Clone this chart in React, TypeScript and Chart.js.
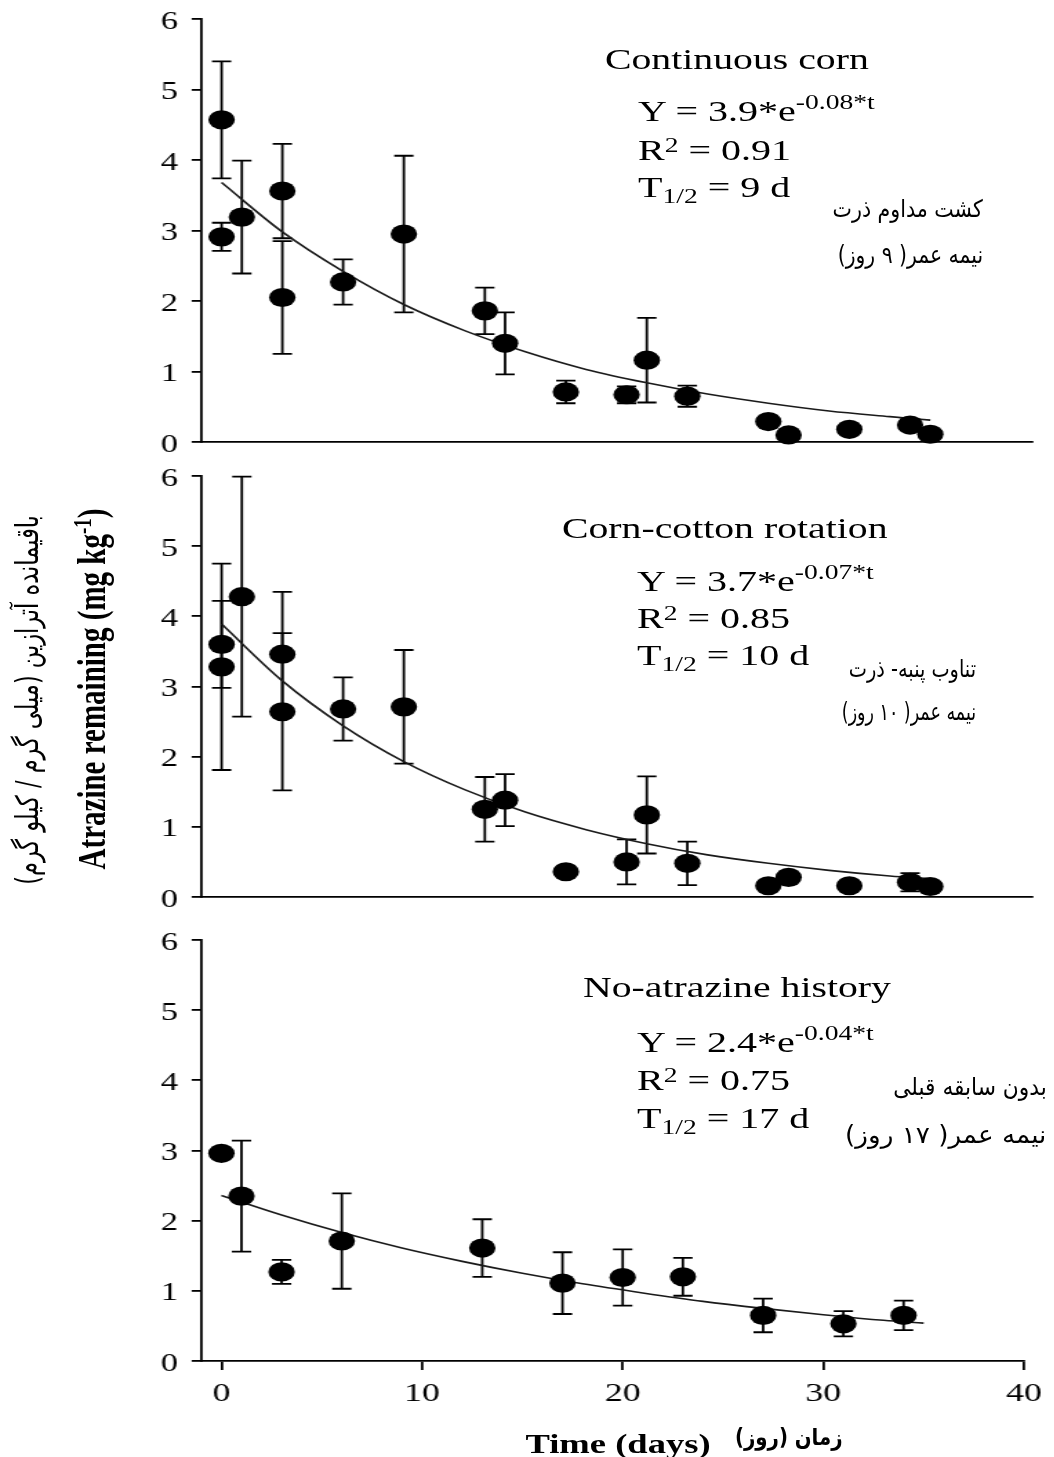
import React, { useEffect, useLayoutEffect, useRef } from "react";
import { Chart, registerables } from "chart.js";

Chart.register(...registerables);

// ---------------- data ----------------
const xTicks = [0, 10, 20, 30, 40];
const yTicks = [0, 1, 2, 3, 4, 5, 6];

// Continuous corn
const days1 = [0, 0, 1, 3, 3, 6, 9, 13, 14, 17, 20, 21, 23, 27, 28, 31, 34, 35];
const vals1 = [4.57, 2.91, 3.19, 3.56, 2.05, 2.27, 2.95, 1.86, 1.4, 0.71, 0.67, 1.16, 0.65, 0.29, 0.1, 0.18, 0.24, 0.11];
const errs1 = [0.83, 0.2, 0.8, 0.67, 0.8, 0.32, 1.11, 0.33, 0.44, 0.16, 0.12, 0.6, 0.15, 0, 0, 0, 0.07, 0];

// Corn-cotton rotation
const days2 = [0, 0, 1, 3, 3, 6, 9, 13, 14, 17, 20, 21, 23, 27, 28, 31, 34, 35];
const vals2 = [3.6, 3.28, 4.28, 3.46, 2.64, 2.68, 2.71, 1.25, 1.38, 0.36, 0.5, 1.17, 0.48, 0.16, 0.28, 0.16, 0.21, 0.15];
const errs2 = [0.62, 1.47, 1.71, 0.89, 1.12, 0.45, 0.81, 0.46, 0.37, 0, 0.32, 0.55, 0.31, 0, 0, 0, 0.13, 0];

// No-atrazine history
const days3 = [0, 1, 3, 6, 13, 17, 20, 23, 27, 31, 34];
const vals3 = [2.96, 2.35, 1.27, 1.71, 1.61, 1.11, 1.19, 1.2, 0.65, 0.53, 0.65];
const errs3 = [0, 0.79, 0.17, 0.68, 0.41, 0.44, 0.4, 0.27, 0.24, 0.18, 0.21];

// fitted curves
const curveDays = [0, 3, 6, 9, 12, 15, 18, 21, 24, 27, 30, 33, 35];
const fit1 = [3.68, 2.98, 2.42, 1.95, 1.58, 1.28, 1.03, 0.84, 0.68, 0.55, 0.44, 0.36, 0.31];
const fit2 = [3.89, 3.08, 2.44, 1.93, 1.53, 1.21, 0.96, 0.76, 0.6, 0.48, 0.38, 0.3, 0.26];
const fit3 = [2.36, 2.08, 1.83, 1.61, 1.42, 1.25, 1.1, 0.97, 0.85, 0.75, 0.66, 0.58, 0.54];

const panelTitles = ["Continuous corn", "Corn-cotton rotation", "No-atrazine history"];
const fitA = ["3.9", "3.7", "2.4"];
const fitK = ["-0.08*t", "-0.07*t", "-0.04*t"];
const fitR2 = ["0.91", "0.85", "0.75"];
const halfLife = ["9 d", "10 d", "17 d"];
const faLine1 = ["کشت مداوم ذرت", "تناوب پنبه- ذرت", "بدون سابقه  قبلی"];
const faLine2 = ["نیمه عمر( ۹ روز)", "نیمه عمر( ۱۰ روز)", "نیمه عمر( ۱۷ روز)"];

// ---------------- layout (local, unstretched coords) ----------------
const S = 1.38; // the original figure is stretched horizontally
const W = 764;
const H = 1457;
const AREA_L = 145.9;
const AREA_R = 747.5;
const Y_AXIS_W = 70;
const X_AXIS_H = 60;
const PAD = 32;
const serif = "'Liberation Serif', 'Times New Roman', serif";
const persian = "'DejaVu Sans', sans-serif";

type PanelCfg = {
  days: number[];
  vals: number[];
  errs: number[];
  fit: number[];
  y6: number;
  y0: number;
  showX: boolean;
};

const panels: PanelCfg[] = [
  { days: days1, vals: vals1, errs: errs1, fit: fit1, y6: 19, y0: 442, showX: false },
  { days: days2, vals: vals2, errs: errs2, fit: fit2, y6: 476, y0: 897, showX: false },
  { days: days3, vals: vals3, errs: errs3, fit: fit3, y6: 940, y0: 1361, showX: true },
];

const CAP = 7;

const errorBarPlugin = {
  id: "errorBars",
  beforeDatasetsDraw(chart: any) {
    const { ctx } = chart;
    const xs = chart.scales.x;
    const ys = chart.scales.y;
    const ds = chart.data.datasets[0];
    const errs: number[] = ds.errors || [];
    ctx.save();
    ctx.strokeStyle = "#000";
    ctx.lineWidth = 1.8;
    ds.data.forEach((p: any, i: number) => {
      const e = errs[i];
      if (!e) return;
      const px = xs.getPixelForValue(p.x);
      const yt = ys.getPixelForValue(p.y + e);
      const yb = ys.getPixelForValue(p.y - e);
      ctx.beginPath();
      ctx.moveTo(px, yt);
      ctx.lineTo(px, yb);
      ctx.moveTo(px - CAP, yt);
      ctx.lineTo(px + CAP, yt);
      ctx.moveTo(px - CAP, yb);
      ctx.lineTo(px + CAP, yb);
      ctx.stroke();
    });
    ctx.restore();
  },
};

function Panel({ cfg }: { cfg: PanelCfg }) {
  const ref = useRef<HTMLCanvasElement>(null);
  const padTop = PAD;
  const padBottom = cfg.showX ? 0 : PAD;
  const xH = cfg.showX ? X_AXIS_H : 0;
  const top = cfg.y6 - padTop;
  const height = cfg.y0 - cfg.y6 + padTop + padBottom + xH;

  useEffect(() => {
    const chart = new Chart(ref.current as HTMLCanvasElement, {
      type: "scatter",
      data: {
        datasets: [
          {
            type: "scatter",
            data: cfg.days.map((d, i) => ({ x: d, y: cfg.vals[i] })),
            errors: cfg.errs,
            backgroundColor: "#000",
            borderColor: "#000",
            borderWidth: 0,
            pointRadius: 9.6,
            pointHoverRadius: 9.6,
            clip: false,
            order: 0,
          } as any,
          {
            type: "scatter",
            data: curveDays.map((d, i) => ({ x: d, y: cfg.fit[i] })),
            showLine: true,
            borderColor: "#1a1a1a",
            borderWidth: 1.6,
            pointRadius: 0,
            tension: 0.4,
            cubicInterpolationMode: "monotone",
            clip: false,
            order: 1,
          } as any,
        ],
      },
      options: {
        responsive: false,
        animation: false,
        events: [],
        layout: {
          padding: { left: AREA_L - Y_AXIS_W, right: W - AREA_R, top: padTop, bottom: padBottom },
        },
        plugins: {
          legend: { display: false },
          tooltip: { enabled: false },
          title: { display: false },
        },
        scales: {
          x: {
            type: "linear",
            position: "bottom",
            min: -1,
            max: 40,
            afterBuildTicks: (s: any) => {
              s.ticks = xTicks.map((v) => ({ value: v }));
            },
            afterFit: (s: any) => {
              s.height = xH;
            },
            border: { display: true, color: "#000", width: 1.8 },
            grid: {
              display: true,
              drawOnChartArea: false,
              drawTicks: cfg.showX,
              tickLength: 9,
              color: "#000",
              lineWidth: 1.8,
            },
            ticks: {
              display: cfg.showX,
              color: "#000",
              font: { family: serif, size: 26 },
              padding: 9,
              maxRotation: 0,
              autoSkip: false,
            },
          },
          y: {
            type: "linear",
            position: "left",
            min: 0,
            max: 6,
            afterBuildTicks: (s: any) => {
              s.ticks = yTicks.map((v) => ({ value: v }));
            },
            afterFit: (s: any) => {
              s.width = Y_AXIS_W;
            },
            border: { display: true, color: "#000", width: 1.8 },
            grid: {
              display: true,
              drawOnChartArea: false,
              drawTicks: true,
              tickLength: 7,
              color: "#000",
              lineWidth: 1.8,
            },
            ticks: {
              color: "#000",
              font: { family: serif, size: 25 },
              padding: 10,
              labelOffset: 3,
            },
          },
        },
      } as any,
      plugins: [errorBarPlugin],
    });
    return () => chart.destroy();
  }, []);

  return (
    <canvas
      ref={ref}
      width={W}
      height={height}
      style={{ position: "absolute", left: 0, top, width: W, height }}
    />
  );
}

function Line({ left, baseline, size, bold, children }: any) {
  return (
    <div
      style={{
        position: "absolute",
        left,
        top: baseline - 0.8375 * size,
        fontFamily: serif,
        fontSize: size,
        lineHeight: `${size}px`,
        fontWeight: bold ? "bold" : "normal",
        whiteSpace: "nowrap",
        color: "#000",
      }}
    >
      {children}
    </div>
  );
}

// Persian line, right-anchored, fitted to the width it has in the reference (page px)
function FaLine({ right, baseline, size, bold, pageWidth, children }: any) {
  const ref = useRef<HTMLSpanElement>(null);
  useLayoutEffect(() => {
    const apply = () => {
      const el = ref.current;
      if (!el) return;
      const natural = el.offsetWidth;
      if (natural > 0) el.style.transform = `scaleX(${pageWidth / S / natural})`;
    };
    apply();
    const f: any = (document as any).fonts;
    if (f && f.ready) f.ready.then(apply);
  }, []);
  return (
    <div
      dir="rtl"
      style={{
        position: "absolute",
        left: right - 400,
        width: 400,
        top: baseline - 0.846 * size,
        fontFamily: persian,
        fontSize: size,
        lineHeight: `${size}px`,
        fontWeight: bold ? "bold" : "normal",
        textAlign: "right",
        whiteSpace: "nowrap",
        color: "#000",
      }}
    >
      <span ref={ref} style={{ display: "inline-block", transformOrigin: "100% 50%", whiteSpace: "nowrap" }}>
        {children}
      </span>
    </div>
  );
}

const Sup = ({ size, raise, children }: any) => (
  <span style={{ fontSize: size, position: "relative", top: -raise }}>{children}</span>
);

const textPos = [
  { tl: 438.4, tb: 69, el: 462.3, eb: [121, 160, 197], fr: 712.3, fb: [217, 263], fw: [150, 145] },
  { tl: 407.2, tb: 538, el: 461.6, eb: [591, 628, 665], fr: 707, fb: [677, 720], fw: [127, 134] },
  { tl: 422.5, tb: 997, el: 461.6, eb: [1052, 1090, 1128], fr: 758.7, fb: [1095, 1143], fw: [154, 201] },
];

export default function App() {
  return (
    <div
      style={{
        position: "absolute",
        left: 0,
        top: 0,
        width: W,
        height: H,
        transform: `scaleX(${S})`,
        transformOrigin: "0 0",
        background: "#fff",
        overflow: "visible",
      }}
    >
      {panels.map((p, i) => (
        <Panel key={i} cfg={p} />
      ))}

      {textPos.map((t, i) => (
        <React.Fragment key={i}>
          <Line left={t.tl} baseline={t.tb} size={28.8}>
            {panelTitles[i]}
          </Line>
          <Line left={t.el} baseline={t.eb[0]} size={29}>
            Y = {fitA[i]}*e
            <Sup size={20} raise={12}>
              {fitK[i]}
            </Sup>
          </Line>
          <Line left={t.el} baseline={t.eb[1]} size={29}>
            R
            <Sup size={20} raise={8}>
              2
            </Sup>{" "}
            = {fitR2[i]}
          </Line>
          <Line left={t.el} baseline={t.eb[2]} size={29}>
            T
            <Sup size={20} raise={-6}>
              1/2
            </Sup>{" "}
            = {halfLife[i]}
          </Line>
          <FaLine right={t.fr} baseline={t.fb[0]} size={24} pageWidth={t.fw[0]}>
            {faLine1[i]}
          </FaLine>
          <FaLine right={t.fr} baseline={t.fb[1]} size={24} pageWidth={t.fw[1]}>
            {faLine2[i]}
          </FaLine>
        </React.Fragment>
      ))}

      {/* y-axis titles */}
      <div
        style={{
          position: "absolute",
          left: 68,
          top: 689,
          transform: "translate(-50%, -50%) rotate(-90deg)",
          fontFamily: serif,
          fontWeight: "bold",
          fontSize: 29,
          lineHeight: "29px",
          whiteSpace: "nowrap",
          color: "#000",
        }}
      >
        Atrazine remaining (mg kg
        <Sup size={19} raise={10}>
          -1
        </Sup>
        )
      </div>
      <div
        dir="rtl"
        style={{
          position: "absolute",
          left: 19.5,
          top: 700,
          transform: "translate(-50%, -50%) rotate(-90deg)",
          fontFamily: persian,
          fontSize: 22.5,
          lineHeight: "22.5px",
          whiteSpace: "nowrap",
          color: "#000",
        }}
      >
        باقیمانده آترازین (میلی گرم / کیلو گرم)
      </div>

      {/* x-axis titles */}
      <div
        style={{
          position: "absolute",
          left: 447.9,
          top: 1453 - 0.8375 * 26.5,
          transform: "translateX(-50%)",
          fontFamily: serif,
          fontWeight: "bold",
          fontSize: 26.5,
          lineHeight: "26.5px",
          whiteSpace: "nowrap",
          color: "#000",
        }}
      >
        Time (days)
      </div>
      <FaLine right={610.9} baseline={1445} size={23} bold pageWidth={108}>
        زمان (روز)
      </FaLine>
    </div>
  );
}
